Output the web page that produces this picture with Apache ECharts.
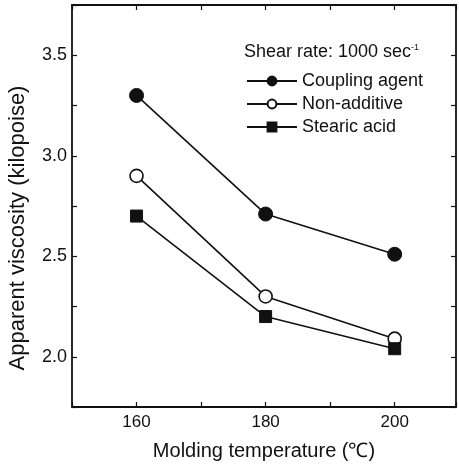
<!DOCTYPE html>
<html>
<head>
<meta charset="utf-8">
<script src="https://cdn.jsdelivr.net/npm/echarts@6/dist/echarts.min.js"></script>
<style>
html,body{margin:0;padding:0;background:#fff;}
#chart{width:459px;height:466px;}
</style>
</head>
<body>
<div id="chart"></div>
<script>
const temps = [160, 180, 200];
const coupling = [3.30, 2.71, 2.51];
const nonAdditive = [2.90, 2.30, 2.09];
const stearic = [2.70, 2.20, 2.04];
const xTickLabels = [160, 180, 200];
const yTickLabels = [2.0, 2.5, 3.0, 3.5];
const seriesNames = ['Coupling agent', 'Non-additive', 'Stearic acid'];

const FONT = '"Liberation Sans", Arial, Helvetica, sans-serif';
const INK = '#111';

function pairs(vals) { return temps.map((t, i) => [t, vals[i]]); }

const chart = echarts.init(document.getElementById('chart'));

const axisCommon = {
  axisLine: { show: true, onZero: false, lineStyle: { color: INK, width: 1.8 } },
  axisTick: { show: true, inside: true, length: 5, lineStyle: { color: INK, width: 1.2 } },
  splitLine: { show: false }
};

const xBase = Object.assign({ type: 'value', min: 150, max: 209.5, interval: 10 }, axisCommon);
const yBase = Object.assign({ type: 'value', min: 1.75, max: 3.75, interval: 0.25 }, axisCommon);

chart.setOption({
  animation: false,
  backgroundColor: '#fff',
  grid: { left: 72, top: 5, right: 2, bottom: 59, containLabel: false },
  xAxis: [
    Object.assign({}, xBase, {
      position: 'bottom',
      axisLabel: {
        show: true, color: INK, fontFamily: FONT, fontSize: 17, margin: 7,
        formatter: v => xTickLabels.some(t => Math.abs(t - v) < 1e-6) ? String(Math.round(v)) : ''
      },
      name: 'Molding temperature (℃)',
      nameLocation: 'middle',
      nameGap: 34,
      nameTextStyle: { color: INK, fontFamily: FONT, fontSize: 20 }
    }),
    Object.assign({}, xBase, { position: 'top', axisLabel: { show: false } })
  ],
  yAxis: [
    Object.assign({}, yBase, {
      position: 'left',
      axisLabel: {
        show: true, color: INK, fontFamily: FONT, fontSize: 18, margin: 5,
        formatter: v => yTickLabels.some(t => Math.abs(t - v) < 1e-6) ? v.toFixed(1) : ''
      }
    }),
    Object.assign({}, yBase, { position: 'right', axisLabel: { show: false } })
  ],
  legend: {
    orient: 'vertical',
    left: 241,
    top: 67,
    itemWidth: 50,
    itemHeight: 11,
    itemGap: 5,
    textStyle: { color: INK, fontFamily: FONT, fontSize: 18 },
    data: seriesNames
  },
  graphic: [
    {
      type: 'text',
      left: 244,
      top: 43,
      style: {
        text: 'Shear rate: 1000 sec{s|-1}',
        fill: INK,
        font: '18px ' + FONT,
        rich: { s: { fontSize: 9, fontFamily: FONT, verticalAlign: 'top', fill: INK } }
      }
    },
    {
      type: 'text',
      x: 18,
      y: 228,
      rotation: Math.PI / 2,
      style: {
        text: 'Apparent viscosity (kilopoise)',
        fill: INK,
        font: '22px ' + FONT,
        align: 'center',
        verticalAlign: 'middle'
      }
    }
  ],
  series: [
    {
      name: seriesNames[0], type: 'line', data: pairs(coupling),
      symbol: 'circle', symbolSize: 14,
      lineStyle: { color: INK, width: 1.6 },
      itemStyle: { color: INK, borderColor: INK, borderWidth: 1 }
    },
    {
      name: seriesNames[1], type: 'line', data: pairs(nonAdditive),
      symbol: 'circle', symbolSize: 13,
      lineStyle: { color: INK, width: 1.6 },
      itemStyle: { color: '#fff', borderColor: INK, borderWidth: 1.6 }
    },
    {
      name: seriesNames[2], type: 'line', data: pairs(stearic),
      symbol: 'rect', symbolSize: 12,
      lineStyle: { color: INK, width: 1.6 },
      itemStyle: { color: INK, borderColor: INK, borderWidth: 1 }
    }
  ]
});
</script>
</body>
</html>
